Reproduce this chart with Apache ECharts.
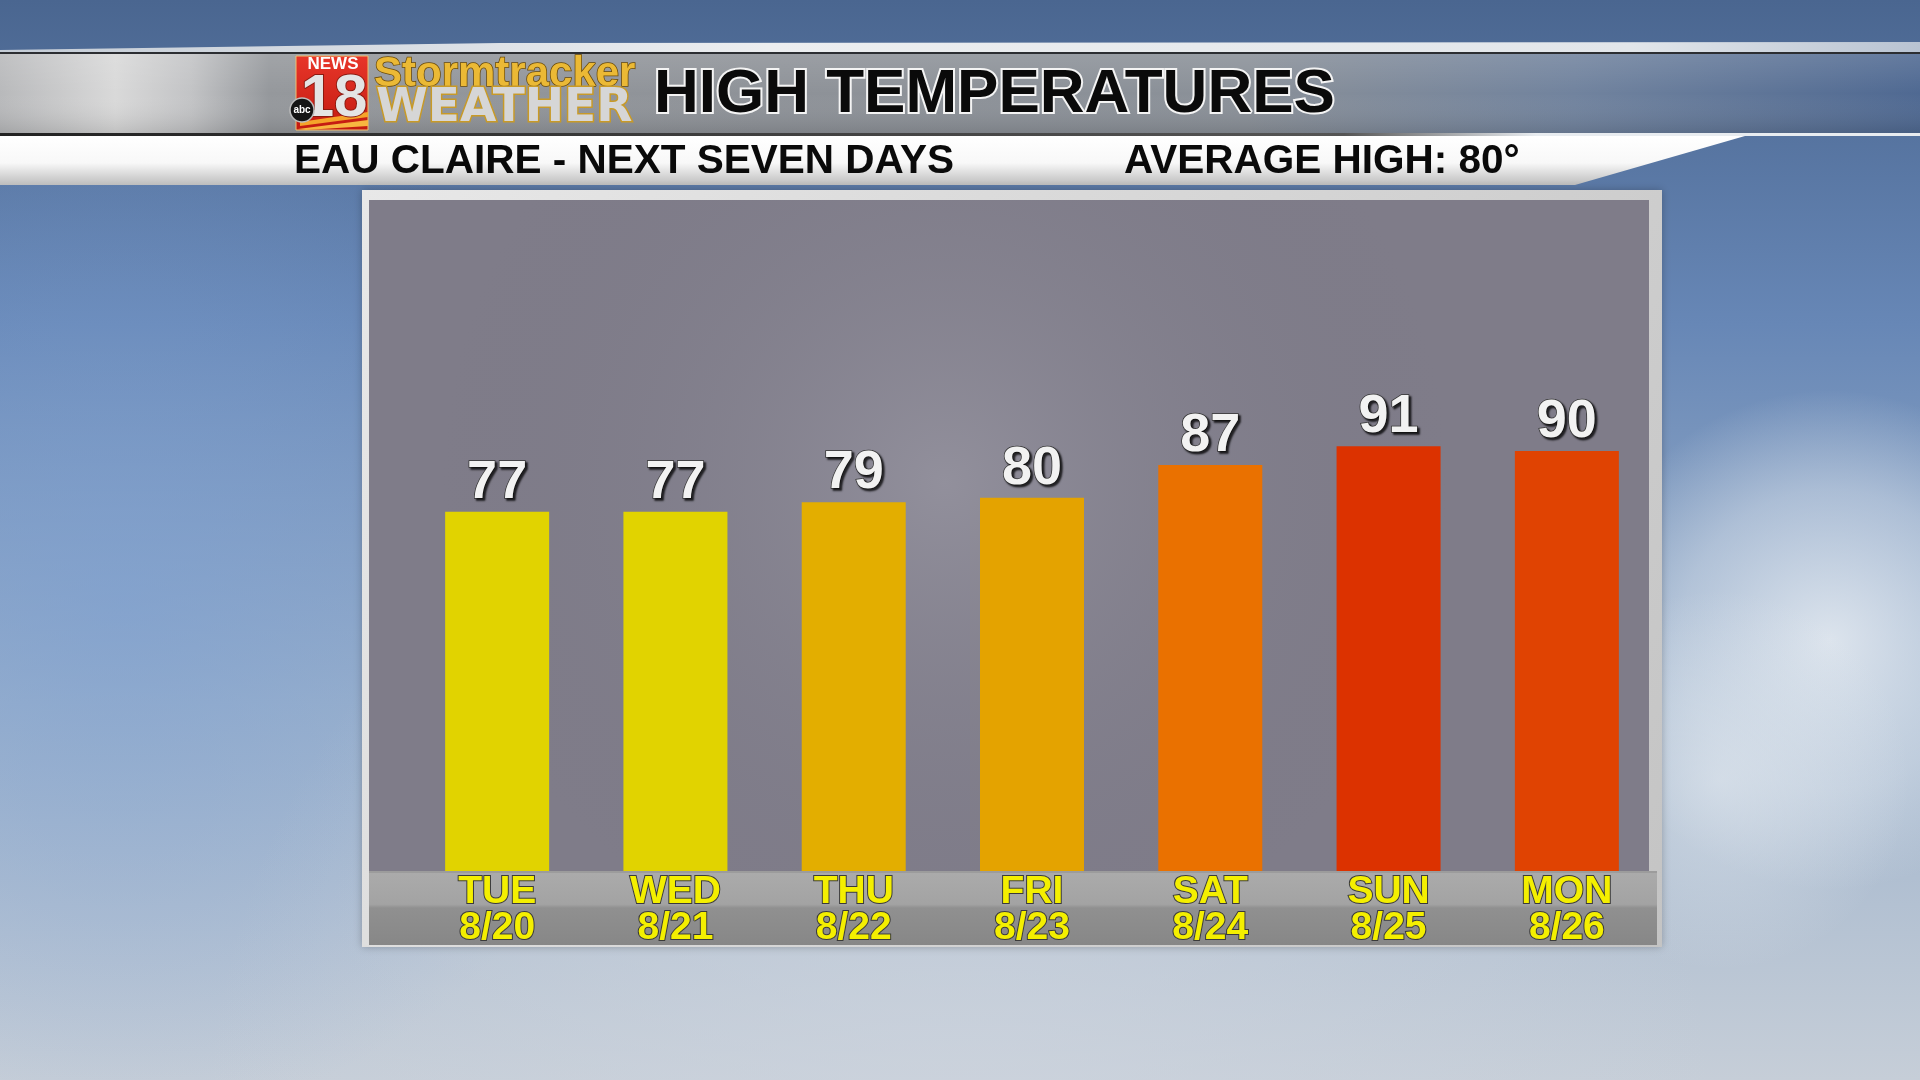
<!DOCTYPE html>
<html>
<head>
<meta charset="utf-8">
<script src="https://cdn.jsdelivr.net/npm/echarts@6/dist/echarts.min.js"></script>
<style>
  html, body { margin: 0; padding: 0; width: 100%; height: 100%; overflow: hidden; }
  #chart { width: 1920px; height: 1080px; }
</style>
</head>
<body>
<div id="chart"></div>
<script>
// data
const days = ['TUE', 'WED', 'THU', 'FRI', 'SAT', 'SUN', 'MON']
const dates = ['8/20', '8/21', '8/22', '8/23', '8/24', '8/25', '8/26']
const highs = [77, 77, 79, 80, 87, 91, 90]
const avgHigh = 80

// one colour per bar (style, kept apart from the data)
const barColors = ['#e1d300', '#e1d300', '#e3ae00', '#e4a300', '#ea7100', '#dc3200', '#e04302']

const FONT = "'Liberation Sans', Arial, sans-serif"
const chart = echarts.init(document.getElementById('chart'))

const lin = (x0, y0, x1, y1, stops) =>
  new echarts.graphic.LinearGradient(x0, y0, x1, y1, stops.map(s => ({ offset: s[0], color: s[1] })))
const rad = (r, stops) =>
  new echarts.graphic.RadialGradient(0.5, 0.5, r, stops.map(s => ({ offset: s[0], color: s[1] })))

// backdrop: sky, header bar, logo, titles, chart panel
const backdrop = [
  // sky patches
  { type: 'circle', shape: { cx: 120, cy: 600, r: 520 }, style: { fill: rad(0.5, [[0, 'rgba(125,160,210,0.6)'], [1, 'rgba(125,160,210,0)']]) } },
  { type: 'circle', shape: { cx: 1830, cy: 640, r: 250 }, style: { fill: rad(0.5, [[0, 'rgba(238,242,246,0.8)'], [0.6, 'rgba(225,232,240,0.45)'], [1, 'rgba(225,232,240,0)']]) } },
  { type: 'circle', shape: { cx: 1720, cy: 780, r: 190 }, style: { fill: rad(0.5, [[0, 'rgba(228,234,240,0.6)'], [1, 'rgba(228,234,240,0)']]) } },
  { type: 'circle', shape: { cx: 960, cy: 1150, r: 760 }, style: { fill: rad(0.5, [[0, 'rgba(205,212,222,0.75)'], [1, 'rgba(205,212,222,0)']]) } },

  // light strip above the header, thin on the left, wider on the right
  { type: 'polygon', shape: { points: [[0, 50], [500, 43], [1920, 42], [1920, 53], [0, 53]] },
    style: { fill: lin(0, 0, 1, 0, [[0, '#c4ccd6'], [0.4, '#eceef0'], [0.85, '#e2e6ea'], [1, '#b8c3d2']]) } },
  // metallic header bar
  { type: 'rect', shape: { x: 0, y: 53, width: 1920, height: 81 }, style: { fill: lin(0, 0, 1, 0, [[0, '#b8b9bb'], [0.06, '#d9d9d9'], [0.1, '#c2c3c5'], [0.14, '#95989c'], [0.4, '#8e9298'], [0.65, '#8a9098'], [0.82, '#71839e'], [1, '#4f6992']]) } },
  { type: 'rect', shape: { x: 0, y: 53, width: 1920, height: 81 }, style: { fill: lin(0, 0, 0, 1, [[0, 'rgba(255,255,255,0.12)'], [0.5, 'rgba(255,255,255,0)'], [1, 'rgba(0,0,0,0.12)']]) } },
  { type: 'rect', shape: { x: 0, y: 52, width: 1920, height: 2 }, style: { fill: '#2c2e32' } },
  { type: 'rect', shape: { x: 0, y: 133, width: 1920, height: 3 }, style: { fill: lin(0, 0, 1, 0, [[0, '#222'], [0.7, '#555'], [0.8, '#e8ecf0'], [1, '#e8ecf0']]) } },
  // white subtitle band with slanted end
  { type: 'polygon', shape: { points: [[0, 136], [1745, 136], [1575, 185], [0, 185]] },
    style: { fill: lin(0, 0, 0, 1, [[0, '#ffffff'], [0.55, '#f8f8f8'], [1, '#bdbdbd']]) } },

  // logo
  { type: 'rect', shape: { x: 296, y: 56, width: 72, height: 74 }, style: { fill: lin(0, 0, 0, 1, [[0, '#e8362a'], [1, '#c21a10']]), stroke: '#f0c070', lineWidth: 1 } },
  { type: 'polygon', shape: { points: [[300, 122], [368, 112], [368, 117], [300, 126]] }, style: { fill: '#f5a42a' } },
  { type: 'polygon', shape: { points: [[298, 129], [368, 120], [368, 126], [306, 130]] }, style: { fill: '#f7b640' } },
  { type: 'text', style: { text: 'NEWS', x: 333, y: 64, font: 'bold 17px ' + FONT, fill: '#ffffff', textAlign: 'center', textVerticalAlign: 'middle' } },
  { type: 'text', style: { text: '18', x: 334, y: 99, font: 'bold 60px ' + FONT, fill: '#e4e4e4', stroke: '#8a1a10', lineWidth: 2, strokeFirst: true, textAlign: 'center', textVerticalAlign: 'middle' } },
  { type: 'circle', shape: { cx: 302, cy: 110, r: 12 }, style: { fill: '#151515', stroke: '#bdbdbd', lineWidth: 1.5 } },
  { type: 'text', style: { text: 'abc', x: 302, y: 110, font: 'bold 10px ' + FONT, fill: '#ffffff', textAlign: 'center', textVerticalAlign: 'middle' } },
  { type: 'text', style: { text: 'Stormtracker', x: 374, y: 74, font: 'bold 42px ' + FONT, fill: '#ebb935', stroke: '#6a4a08', lineWidth: 1.5, strokeFirst: true, textAlign: 'left', textVerticalAlign: 'middle' } },
  { type: 'text', style: { text: 'WEATHER', x: 376, y: 109, font: 'bold 47px "DejaVu Sans", ' + FONT, fill: '#d6d6d6', stroke: '#c89a28', lineWidth: 3, strokeFirst: true, textAlign: 'left', textVerticalAlign: 'middle' } },

  // titles
  { type: 'text', style: { text: 'HIGH TEMPERATURES', x: 654, y: 95, font: 'bold 62px ' + FONT, fill: '#0a0a0a', stroke: '#f4f4f4', lineWidth: 4, strokeFirst: true, textAlign: 'left', textVerticalAlign: 'middle' } },
  { type: 'text', style: { text: 'EAU CLAIRE - NEXT SEVEN DAYS', x: 294, y: 162, font: 'bold 40.5px ' + FONT, fill: '#0a0a0a', textAlign: 'left', textVerticalAlign: 'middle' } },
  { type: 'text', style: { text: 'AVERAGE HIGH: ' + avgHigh + '°', x: 1124, y: 162, font: 'bold 40.5px ' + FONT, fill: '#0a0a0a', textAlign: 'left', textVerticalAlign: 'middle' } },

  // chart panel frame
  { type: 'rect', shape: { x: 362, y: 190, width: 1300, height: 757 }, style: { fill: lin(0, 0, 1, 1, [[0, '#e8e8e8'], [1, '#c4c4c4']]), shadowColor: 'rgba(0,0,0,0.25)', shadowBlur: 8 } },
  { type: 'rect', shape: { x: 369, y: 200, width: 1280, height: 671 }, style: { fill: '#7f7c89' } },
  { type: 'rect', shape: { x: 369, y: 200, width: 1280, height: 671 }, style: { fill: new echarts.graphic.RadialGradient(0.45, 0.42, 0.75, [{ offset: 0, color: 'rgba(148,146,158,0.9)' }, { offset: 1, color: 'rgba(120,118,132,0)' }]) } },
  // label band
  { type: 'rect', shape: { x: 369, y: 871, width: 1288, height: 74 }, style: { fill: lin(0, 0, 0, 1, [[0, '#ababab'], [0.45, '#a3a3a3'], [0.5, '#909090'], [1, '#878787']]) } },
  { type: 'rect', shape: { x: 369, y: 871, width: 1288, height: 2 }, style: { fill: '#9c9c9c' } }
]

const option = {
  backgroundColor: lin(0, 0, 0, 1, [[0, '#4a6690'], [0.3, '#6787b6'], [0.65, '#9db2cb'], [1, '#c6ced8']]),
  animation: false,
  graphic: { elements: backdrop.map(e => Object.assign({ z: -10, silent: true }, e)) },
  grid: { left: 408, top: 199, width: 1248, height: 672 },
  xAxis: {
    type: 'category',
    data: days.map((d, i) => d + '\n' + dates[i]),
    axisLine: { show: false },
    axisTick: { show: false },
    axisLabel: {
      interval: 0,
      margin: 3,
      color: '#f4ef00',
      fontFamily: FONT,
      fontWeight: 'bold',
      fontSize: 39,
      lineHeight: 36,
      textBorderColor: '#3a3a3a',
      textBorderWidth: 2
    }
  },
  yAxis: {
    type: 'value',
    min: 0,
    max: 144,
    show: false,
    splitLine: { show: false }
  },
  series: [
    {
      type: 'bar',
      barWidth: 104,
      z: 5,
      data: highs.map((v, i) => ({ value: v, itemStyle: { color: barColors[i] } })),
      label: {
        show: true,
        position: 'top',
        distance: 1,
        color: '#f2f2f2',
        fontFamily: FONT,
        fontWeight: 'bold',
        fontSize: 54,
        lineHeight: 56,
        textBorderColor: '#333333',
        textBorderWidth: 1.5,
        textShadowColor: 'rgba(0,0,0,0.75)',
        textShadowBlur: 2,
        textShadowOffsetX: 2,
        textShadowOffsetY: 2
      }
    }
  ]
}
chart.setOption(option)
</script>
</body>
</html>
